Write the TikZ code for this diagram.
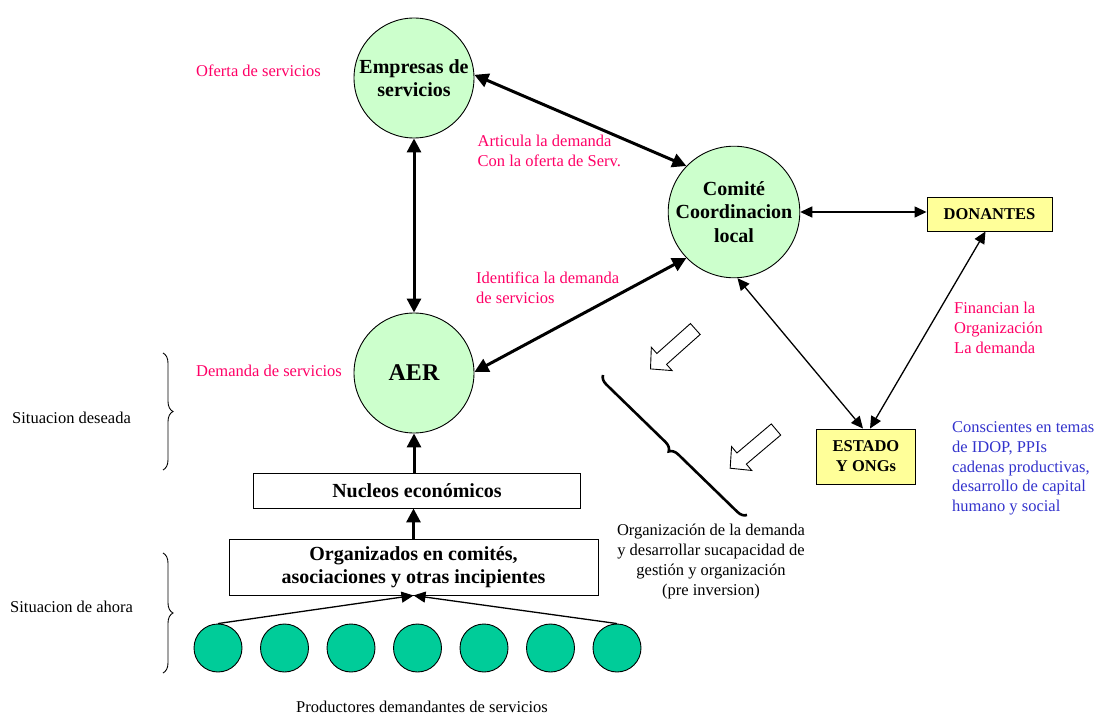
\documentclass[tikz,border=0pt]{standalone}
\usepackage{fontspec}
\setmainfont{Liberation Serif}
\usetikzlibrary{arrows.meta,decorations.pathreplacing}
\definecolor{pinkc}{RGB}{255,0,102}
\definecolor{bluec}{RGB}{51,51,204}
\definecolor{lgreen}{RGB}{204,255,204}
\definecolor{tgreen}{RGB}{0,204,153}
\definecolor{lyellow}{RGB}{255,255,153}
\newcommand\regfont{\fontsize{16.5}{19.8}\selectfont}
\newcommand\bnfont{\fontsize{20}{23.5}\selectfont\bfseries}
\newcommand\bofont{\fontsize{20}{22.5}\selectfont\bfseries}
\newcommand\bsfont{\fontsize{16.5}{20}\selectfont\bfseries}
\newcommand\aerfont{\fontsize{24}{26}\selectfont\bfseries}
\begin{document}
\begin{tikzpicture}[x=1pt,y=-1pt,
  bigcirc/.style={circle,draw=black,line width=0.9pt,fill=lgreen,minimum size=120pt,inner sep=0pt,align=center,font=\bnfont},
  prodcirc/.style={circle,draw=black,line width=0.9pt,fill=tgreen,minimum size=48pt,inner sep=0pt},
  wbox/.style={draw=black,line width=0.9pt,fill=white,inner sep=0pt,align=center},
  ybox/.style={draw=black,line width=0.9pt,fill=lyellow,inner sep=0pt,align=center,font=\bsfont},
  plbl/.style={text=pinkc,font=\regfont,align=left,inner sep=0pt},
  klbl/.style={text=black,font=\regfont,align=left,inner sep=0pt},
  blbl/.style={text=bluec,font=\regfont,align=left,inner sep=0pt},
  thkboth/.style={line width=3pt,{Triangle[length=14pt,width=14pt]}-{Triangle[length=14pt,width=14pt]}},
  thkone/.style={line width=3pt,-{Triangle[length=14pt,width=14pt]}},
  thnboth/.style={line width=1.3pt,{Triangle[length=12pt,width=11pt]}-{Triangle[length=12pt,width=11pt]}},
  thnone/.style={line width=1.3pt,-{Triangle[length=12pt,width=11pt]}},
  bracel/.style={decorate,decoration={brace,amplitude=10pt},line width=0.9pt},
  bigbrace/.style={decorate,decoration={brace,amplitude=9pt},line width=2.6pt},
  hollow/.style={draw=black,fill=white,line width=0.9pt,line join=miter}
]
\useasboundingbox (0,0) rectangle (1098,714);

% main circles
\node[bigcirc] (emp) at (414,78) {Empresas de\\servicios};
\node[bigcirc,minimum size=122pt] (com) at (734,212) {Comité\\Coordinacion\\local};
\node[bigcirc,font=\aerfont] (aer) at (414,373) {AER};

% boxes
\node[ybox,minimum width=125pt,minimum height=34pt] (don) at (989.5,214) {DONANTES};
\node[ybox,minimum width=99pt,minimum height=55pt] (est) at (866,456.5) {ESTADO\\Y ONGs};
\node[wbox,font=\bnfont,minimum width=327pt,minimum height=35pt] (nuc) at (417,490.5) {Nucleos económicos};
\node[wbox,font=\bofont,minimum width=369pt,minimum height=56pt] (org) at (413.5,567) {Organizados en comités,\\asociaciones y otras incipientes};

% producer circles
\foreach \i in {1,...,7} {
  \node[prodcirc] (c\i) at ({218+66.5*(\i-1)},648) {};
}

% connectors
\draw[thkboth] (emp.south) -- (aer.north);
\draw[thkboth] (emp.3) -- (com.136);
\draw[thkboth] (aer.1) -- (com.224);
\draw[thnboth] (com.east) -- (com.east -| don.west);
\draw[thnboth] (com.-87) -- ([xshift=-3pt]est.north);
\draw[thnboth] ([xshift=-4pt]don.south) -- ([xshift=4pt]est.north);
\draw[thkone] (aer.south |- nuc.north) -- (aer.south);
\draw[thkone] (org.north) -- (org.north |- nuc.south);
\draw[thnone] (c1.north) -- (org.south);
\draw[thnone] (c7.north) -- (org.south);

% labels
\node[plbl,anchor=west] (ofe) at (196,71) {Oferta de servicios};
\node[plbl,anchor=west] (art) at (477.5,151) {Articula la demanda\\Con la oferta de Serv.};
\node[plbl,anchor=west] (ide) at (476,288) {Identifica la demanda\\de servicios};
\node[plbl,anchor=west] (dem) at (196,371) {Demanda de servicios};
\node[plbl,anchor=west] (fin) at (954,328) {Financian la\\Organización\\La demanda};
\node[blbl,anchor=west] (cons) at (952,468.5) {Conscientes en temas\\de IDOP, PPIs\\cadenas productivas,\\desarrollo de capital\\humano y social};
\node[klbl,anchor=west] (sde) at (12,418) {Situacion deseada};
\node[klbl,anchor=west] (sah) at (10,607) {Situacion de ahora};
\node[klbl,align=center] (odem) at (711,561.5) {Organización de la demanda\\y desarrollar sucapacidad de\\gestión y organización\\(pre inversion)};
\node[klbl] (prod) at (422,707) {Productores demandantes de servicios};

% braces
\draw[bracel] (163,353) -- (163,470);
\draw[bracel] (163,553) -- (163,673);
\draw[bigbrace] (747,515) -- (603,375);

% hollow block arrows
\begin{scope}[shift={(695.3,329)},rotate=221.7]
  \path[hollow] (0,-7.3) -- (45,-7.3) -- (45,-15.6) -- (60,0) -- (45,15.6) -- (45,7.3) -- (0,7.3) -- cycle;
\end{scope}
\begin{scope}[shift={(776,429.5)},rotate=220.2]
  \path[hollow] (0,-7.3) -- (45,-7.3) -- (45,-15.6) -- (60,0) -- (45,15.6) -- (45,7.3) -- (0,7.3) -- cycle;
\end{scope}
\end{tikzpicture}
\end{document}
